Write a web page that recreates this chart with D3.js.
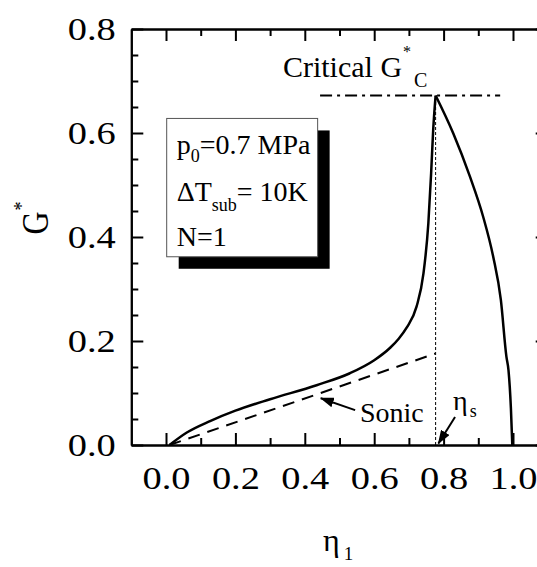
<!DOCTYPE html>
<html>
<head>
<meta charset="utf-8">
<script src="https://cdn.jsdelivr.net/npm/d3@7"></script>
<style>
    body { margin: 0; background: #fff; }
    svg { display: block; font-family: "Liberation Serif", "Times New Roman", serif; }
</style>
</head>
<body>
<div id="chart"></div>
<script>
// axis ranges and ticks
const xDomain = [-0.1, 1.1];
const yDomain = [0, 0.8];
const xMajorTicks = [0.0, 0.2, 0.4, 0.6, 0.8, 1.0];
const xMinorTicks = [0.1, 0.3, 0.5, 0.7, 0.9];
const yMajorTicks = [0.0, 0.2, 0.4, 0.6, 0.8];
const yMinorTicks = [0.05, 0.1, 0.15, 0.25, 0.3, 0.35, 0.45, 0.5, 0.55, 0.65, 0.7, 0.75];

// G* curve, rising branch up to the critical point
const riseEta = [0.01, 0.06, 0.127, 0.2, 0.3, 0.434, 0.53, 0.60, 0.646, 0.67, 0.694, 0.722, 0.742, 0.756, 0.764, 0.770, 0.777];
const riseG   = [0.0, 0.024, 0.046, 0.066, 0.088, 0.115, 0.138, 0.163, 0.187, 0.204, 0.226, 0.266, 0.330, 0.426, 0.522, 0.606, 0.672];
// falling branch after the critical point
const fallEta = [0.777, 0.828, 0.876, 0.914, 0.943, 0.965, 0.981, 0.987, 0.994, 0.998];
const fallG   = [0.672, 0.599, 0.516, 0.439, 0.362, 0.279, 0.170, 0.144, 0.070, 0.0];
// sonic line
const sonicEta = [0.01, 0.777];
const sonicG   = [0.0, 0.176];

const etaS = 0.777;
const criticalG = 0.672;
const criticalSpan = [0.444, 0.963];

const W = 537, H = 567;
const margin = { left: 131.3, right: 547.7, top: 29, bottom: 445 };
const serif = '"Liberation Serif", "Times New Roman", serif';
const stretch = 1.2; // the source figure's lettering is a bit wide

const x = d3.scaleLinear().domain(xDomain).range([margin.left, margin.right]);
const y = d3.scaleLinear().domain(yDomain).range([margin.bottom, margin.top]);

const svg = d3.select('#chart').append('svg')
    .attr('width', W)
    .attr('height', H);

const defs = svg.append('defs');
defs.append('marker')
    .attr('id', 'arrow')
    .attr('markerUnits', 'userSpaceOnUse')
    .attr('viewBox', '0 0 14 10')
    .attr('refX', 13)
    .attr('refY', 5)
    .attr('markerWidth', 14)
    .attr('markerHeight', 10)
    .attr('orient', 'auto')
    .append('path')
    .attr('d', 'M0,0 L14,5 L0,10 Z')
    .attr('fill', '#000');

function styleAxis(g) {
    g.attr('font-family', serif).attr('font-size', 32);
    g.select('.domain').attr('stroke', '#000').attr('stroke-width', 2);
    g.selectAll('.tick line').attr('stroke', '#000').attr('stroke-width', 2);
    g.selectAll('.tick text').attr('fill', '#000');
}

const fmt = d3.format('.1f');

// bottom
const gx = svg.append('g')
    .attr('transform', `translate(0,${margin.bottom})`)
    .call(d3.axisBottom(x).tickValues(xMajorTicks).tickFormat(fmt).tickSize(-12).tickSizeOuter(0).tickPadding(21));
styleAxis(gx);
gx.selectAll('.tick text').attr('transform', `scale(${stretch},1)`);
svg.append('g')
    .attr('transform', `translate(0,${margin.bottom})`)
    .call(d3.axisBottom(x).tickValues(xMinorTicks).tickFormat('').tickSize(-7).tickSizeOuter(0))
    .call(styleAxis);

// top
svg.append('g')
    .attr('transform', `translate(0,${margin.top})`)
    .call(d3.axisTop(x).tickValues(xMajorTicks).tickFormat('').tickSize(-12).tickSizeOuter(0))
    .call(styleAxis);
svg.append('g')
    .attr('transform', `translate(0,${margin.top})`)
    .call(d3.axisTop(x).tickValues(xMinorTicks).tickFormat('').tickSize(-7).tickSizeOuter(0))
    .call(styleAxis);

// left
const gy = svg.append('g')
    .attr('transform', `translate(${margin.left},0)`)
    .call(d3.axisLeft(y).tickValues(yMajorTicks).tickFormat(fmt).tickSize(-12).tickSizeOuter(0).tickPadding(13));
styleAxis(gy);
gy.selectAll('.tick text').attr('transform', `scale(${stretch},1)`);
svg.append('g')
    .attr('transform', `translate(${margin.left},0)`)
    .call(d3.axisLeft(y).tickValues(yMinorTicks).tickFormat('').tickSize(-7).tickSizeOuter(0))
    .call(styleAxis);

// right
svg.append('g')
    .attr('transform', `translate(${margin.right},0)`)
    .call(d3.axisRight(y).tickValues(yMajorTicks).tickFormat('').tickSize(-12).tickSizeOuter(0))
    .call(styleAxis);
svg.append('g')
    .attr('transform', `translate(${margin.right},0)`)
    .call(d3.axisRight(y).tickValues(yMinorTicks).tickFormat('').tickSize(-7).tickSizeOuter(0))
    .call(styleAxis);

// curves
const line = d3.line()
    .x(d => x(d[0]))
    .y(d => y(d[1]))
    .curve(d3.curveMonotoneX);

const plot = svg.append('g');

plot.append('path')
    .datum(d3.zip(riseEta, riseG))
    .attr('d', line)
    .attr('fill', 'none')
    .attr('stroke', '#000')
    .attr('stroke-width', 2.5);

plot.append('path')
    .datum(d3.zip(fallEta, fallG))
    .attr('d', line)
    .attr('fill', 'none')
    .attr('stroke', '#000')
    .attr('stroke-width', 2.5);

plot.append('path')
    .datum(d3.zip(sonicEta, sonicG))
    .attr('d', line.curve(d3.curveLinear))
    .attr('fill', 'none')
    .attr('stroke', '#000')
    .attr('stroke-width', 2)
    .attr('stroke-dasharray', '12,8');

// eta_s vertical dotted line
plot.append('line')
    .attr('x1', x(etaS)).attr('x2', x(etaS))
    .attr('y1', y(0)).attr('y2', y(criticalG))
    .attr('stroke', '#000')
    .attr('stroke-width', 1)
    .attr('stroke-dasharray', '3,2');

// critical G line
plot.append('line')
    .attr('x1', x(criticalSpan[0])).attr('x2', x(criticalSpan[1]))
    .attr('y1', y(criticalG)).attr('y2', y(criticalG))
    .attr('stroke', '#000')
    .attr('stroke-width', 2)
    .attr('stroke-dasharray', '12,5,3,5');

// text helpers
function addText(g, px, py, size) {
    return g.append('text')
        .attr('x', px)
        .attr('y', py)
        .attr('font-family', serif)
        .attr('font-size', size)
        .attr('fill', '#000');
}

// legend box
const boxX = x(0.002), boxY = y(0.628);
const boxW = x(0.437) - x(0.002), boxH = y(0.362) - y(0.628);
svg.append('rect')
    .attr('x', boxX + 12).attr('y', boxY + 12)
    .attr('width', boxW).attr('height', boxH)
    .attr('fill', '#000');
svg.append('rect')
    .attr('x', boxX).attr('y', boxY)
    .attr('width', boxW).attr('height', boxH)
    .attr('fill', '#fff')
    .attr('stroke', '#555')
    .attr('stroke-width', 1);

let t = addText(svg, boxX + 10, boxY + 36, 28);
t.append('tspan').text('p');
t.append('tspan').attr('font-size', 18).attr('dy', 8).text('0');
t.append('tspan').attr('dy', -8).text('=0.7 MPa');

t = addText(svg, boxX + 10, boxY + 83, 28);
t.append('tspan').text('\u0394T');
t.append('tspan').attr('font-size', 18).attr('dy', 10).text('sub');
t.append('tspan').attr('dy', -10).text('= 10K');

t = addText(svg, boxX + 10, boxY + 128, 28);
t.text('N=1');

// critical label
t = addText(svg, x(0.337), y(0.708), 30);
t.append('tspan').text('Critical G');
t.append('tspan').attr('font-size', 16).attr('dy', -20).attr('dx', 1).text('*');
t.append('tspan').attr('font-size', 20).attr('dy', 30).attr('dx', 3).text('C');

// sonic annotation
addText(svg, x(0.559), y(0.045), 28).text('Sonic');
svg.append('line')
    .attr('x1', x(0.545)).attr('y1', y(0.067))
    .attr('x2', x(0.446)).attr('y2', y(0.090))
    .attr('stroke', '#000')
    .attr('stroke-width', 2)
    .attr('marker-end', 'url(#arrow)');

// eta_s annotation
t = addText(svg, x(0.827), y(0.067), 28);
t.append('tspan').text('\u03b7');
t.append('tspan').attr('font-size', 18).attr('dy', 7).attr('dx', 2).text('s');
svg.append('line')
    .attr('x1', x(0.833)).attr('y1', y(0.054))
    .attr('x2', x(0.785)).attr('y2', y(0.003))
    .attr('stroke', '#000')
    .attr('stroke-width', 2)
    .attr('marker-end', 'url(#arrow)');

// axis titles
t = addText(svg, 0, 0, 32)
    .attr('transform', `translate(48,218) scale(${stretch},1) rotate(-90)`)
    .attr('text-anchor', 'middle');
t.append('tspan').text('G');
t.append('tspan').attr('font-size', 18).attr('dy', -17).attr('dx', 1).text('*');

t = addText(svg, 323, 551, 32);
t.append('tspan').text('\u03b7');
t.append('tspan').attr('font-size', 19).attr('dy', 9).attr('dx', 4).text('1');
</script>
</body>
</html>
